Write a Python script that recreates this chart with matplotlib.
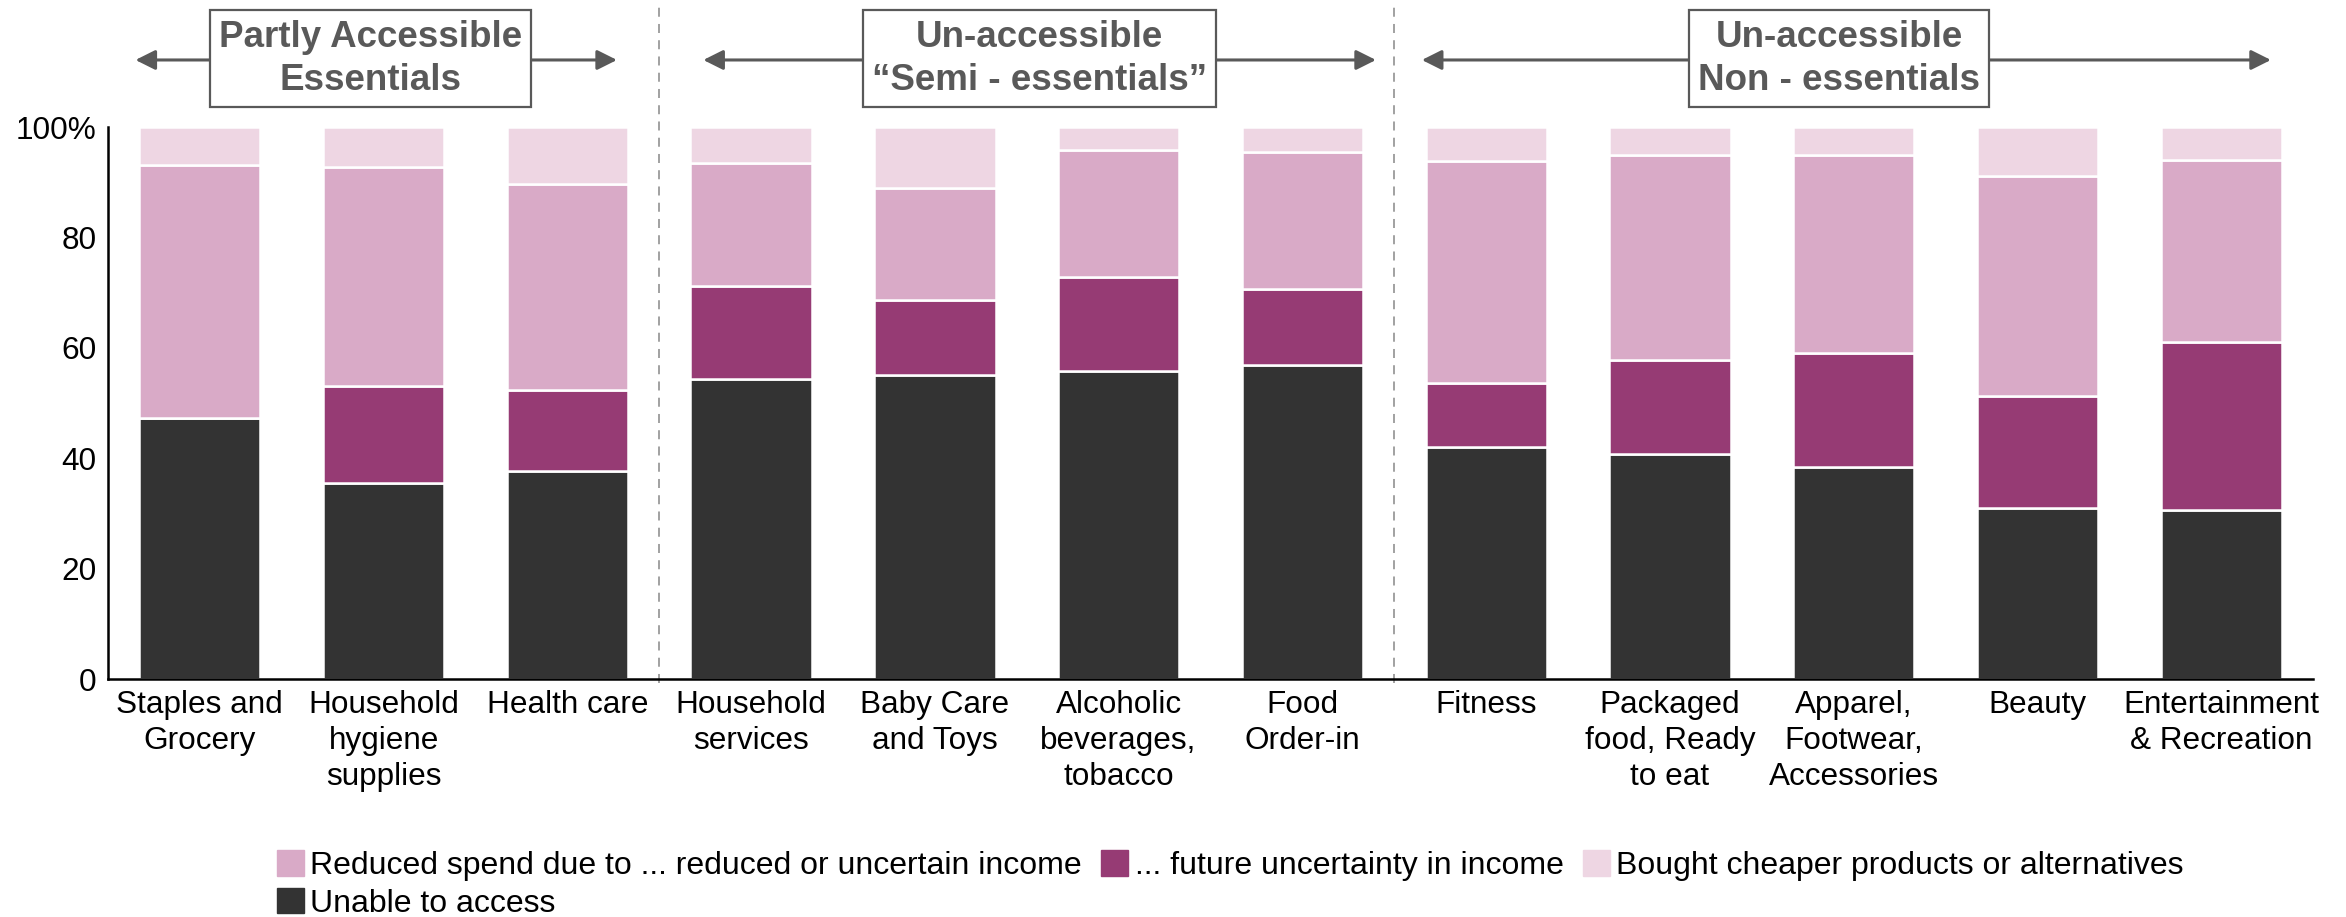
import matplotlib
matplotlib.use("Agg")
import matplotlib.pyplot as plt
import matplotlib.transforms as mtransforms
from matplotlib.patches import Patch
import numpy as np

categories = ["Staples and\nGrocery", "Household\nhygiene\nsupplies", "Health care",
              "Household\nservices", "Baby Care\nand Toys", "Alcoholic\nbeverages,\ntobacco",
              "Food\nOrder-in", "Fitness", "Packaged\nfood, Ready\nto eat",
              "Apparel,\nFootwear,\nAccessories", "Beauty", "Entertainment\n& Recreation"]

# share of respondents (%), stacked bottom to top
unable = [47.2, 35.6, 37.6, 54.3, 55.1, 55.8, 56.8, 42.1, 40.8, 38.4, 30.9, 30.6]
future = [0.0, 17.4, 14.7, 16.9, 13.6, 17.0, 13.9, 11.5, 17.0, 20.6, 20.4, 30.4]
reduced = [46.0, 39.8, 37.3, 22.3, 20.2, 23.0, 24.7, 40.2, 37.1, 36.0, 39.8, 33.0]
cheaper = [6.8, 7.2, 10.4, 6.5, 11.1, 4.2, 4.6, 6.2, 5.1, 5.0, 8.9, 6.0]

series_labels = ["Unable to access", "... future uncertainty in income",
                 "Reduced spend due to ... reduced or uncertain income",
                 "Bought cheaper products or alternatives"]

group_titles = ["Partly Accessible\nEssentials",
                "Un-accessible\n\u201cSemi - essentials\u201d",
                "Un-accessible\nNon - essentials"]

colors = ["#333333", "#963b74", "#d9aac7", "#eed6e3"]
grey = "#595959"

plt.rcParams['font.family'] = ['Liberation Sans', 'DejaVu Sans']

fig = plt.figure(figsize=(23.46, 9.17), dpi=100)
ax = fig.add_axes([0.046, 0.2595, 0.94, 0.602])

x = np.arange(len(categories))
bottom = np.zeros(len(x))
for vals, col in zip([unable, future, reduced, cheaper], colors):
    vals = np.array(vals)
    ax.bar(x, vals, 0.66, bottom=bottom, color=col, edgecolor="white", linewidth=1.8)
    bottom += vals

ax.set_xlim(-0.5, 11.5)
ax.set_ylim(0, 100)
ax.set_xticks(x)
ax.set_xticklabels(categories, linespacing=1.25)
ax.set_yticks([0, 20, 40, 60, 80, 100])
ax.set_yticklabels(["0", "20", "40", "60", "80", "100%"])
ax.tick_params(axis="x", length=0, pad=8, labelsize=22.7)
ax.tick_params(axis="y", length=0, pad=8, labelsize=22.7)
for s in ["top", "right"]:
    ax.spines[s].set_visible(False)
for s in ["left", "bottom"]:
    ax.spines[s].set_linewidth(1.8)

# group separators
for xs in [2.5, 6.5]:
    ax.axvline(xs, ymin=-0.008, ymax=1.225, clip_on=False, color="#9a9a9a",
               lw=1.3, ls=(0, (5, 4)))

# group headers with double arrows
trans = mtransforms.blended_transform_factory(ax.transData, fig.transFigure)
arrow_spans = [(-0.35, 2.27), (2.74, 6.40), (6.65, 11.27)]
title_x = [0.93, 4.57, 8.92]
arrow_y = 0.9346
for (x0, x1), tx, title in zip(arrow_spans, title_x, group_titles):
    ax.annotate("", xy=(x1, arrow_y), xytext=(x0, arrow_y), xycoords=trans,
                textcoords=trans, annotation_clip=False,
                arrowprops=dict(arrowstyle="<|-|>,head_length=0.6,head_width=0.3",
                                color=grey, lw=2.2, shrinkA=0, shrinkB=0,
                                mutation_scale=20))
    ax.text(tx, 0.936, title, transform=trans, ha="center", va="center",
            fontsize=26.5, fontweight="bold", color=grey, linespacing=1.3,
            bbox=dict(boxstyle="square,pad=0.25", fc="white", ec=grey, lw=1.6),
            zorder=5)

handles = [Patch(color=c) for c in colors]
order = [2, 0, 1, 3]
fig.legend([handles[i] for i in order], [series_labels[i] for i in order],
           loc="upper left", bbox_to_anchor=(0.118, 0.073), ncol=3, frameon=False,
           fontsize=23.0, handlelength=0.85, handleheight=0.85, handletextpad=0.2,
           columnspacing=0.6, labelspacing=0.22, borderpad=0, borderaxespad=0)

fig.savefig("out.png", dpi=100)
